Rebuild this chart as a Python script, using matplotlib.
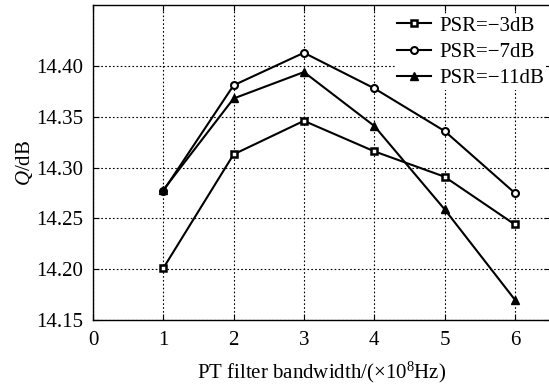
import matplotlib
matplotlib.use("Agg")
import matplotlib.pyplot as plt

# data
bandwidth = [1, 2, 3, 4, 5, 6]
q_psr3 = [14.201, 14.313, 14.346, 14.316, 14.291, 14.244]
q_psr7 = [14.277, 14.381, 14.413, 14.378, 14.336, 14.275]
q_psr11 = [14.278, 14.368, 14.394, 14.341, 14.259, 14.170]
labels = ["PSR=\u22123dB", "PSR=\u22127dB", "PSR=\u221211dB"]

plt.rcParams['font.family'] = ['Liberation Serif', 'DejaVu Serif']
plt.rcParams['mathtext.fontset'] = 'custom'
plt.rcParams['mathtext.rm'] = 'Liberation Serif'
plt.rcParams['mathtext.it'] = 'Liberation Serif:italic'

fig = plt.figure(figsize=(5.49, 3.90), dpi=100)
ax = fig.add_axes([93 / 549, 1 - 320 / 390, 457 / 549, 315 / 390])

ax.plot(bandwidth, q_psr3, color='black', lw=1.5, marker='s', ms=5,
        mfc='white', mec='black', mew=1.8, label=labels[0])
ax.plot(bandwidth, q_psr7, color='black', lw=1.5, marker='o', ms=5,
        mfc='white', mec='black', mew=1.5, label=labels[1])
ax.plot(bandwidth, q_psr11, color='black', lw=1.5, marker='^', ms=6,
        mfc='black', mec='black', label=labels[2])

ax.set_xlim(0, 6.5)
ax.set_ylim(14.15, 14.46)
ax.set_xticks(range(0, 7))
ax.set_yticks([14.15, 14.20, 14.25, 14.30, 14.35, 14.40])
ax.set_yticklabels([f"{v:.2f}" for v in [14.15, 14.20, 14.25, 14.30, 14.35, 14.40]])
ax.tick_params(direction='in', top=True, right=True, labelsize=15, length=4)
ax.tick_params(axis='x', pad=8)
ax.tick_params(axis='y', pad=7)
ax.grid(True, linestyle=(0, (1.5, 2)), color='black', lw=0.8)

ax.set_xlabel("PT filter bandwidth/(\u00d710$^{8}$Hz)", fontsize=15, labelpad=7)
ax.set_ylabel("$\\mathit{Q}$/dB", fontsize=15, labelpad=1)

for s in ax.spines.values():
    s.set_linewidth(1.0)

leg = ax.legend(loc='upper right', bbox_to_anchor=(1.0, 0.985), fontsize=15,
                frameon=True, fancybox=False, edgecolor='none', facecolor='white',
                framealpha=1, handlelength=1.6, handletextpad=0.4,
                labelspacing=0.32, borderpad=0.1, borderaxespad=0.2)

plt.savefig("out.png", dpi=100)
